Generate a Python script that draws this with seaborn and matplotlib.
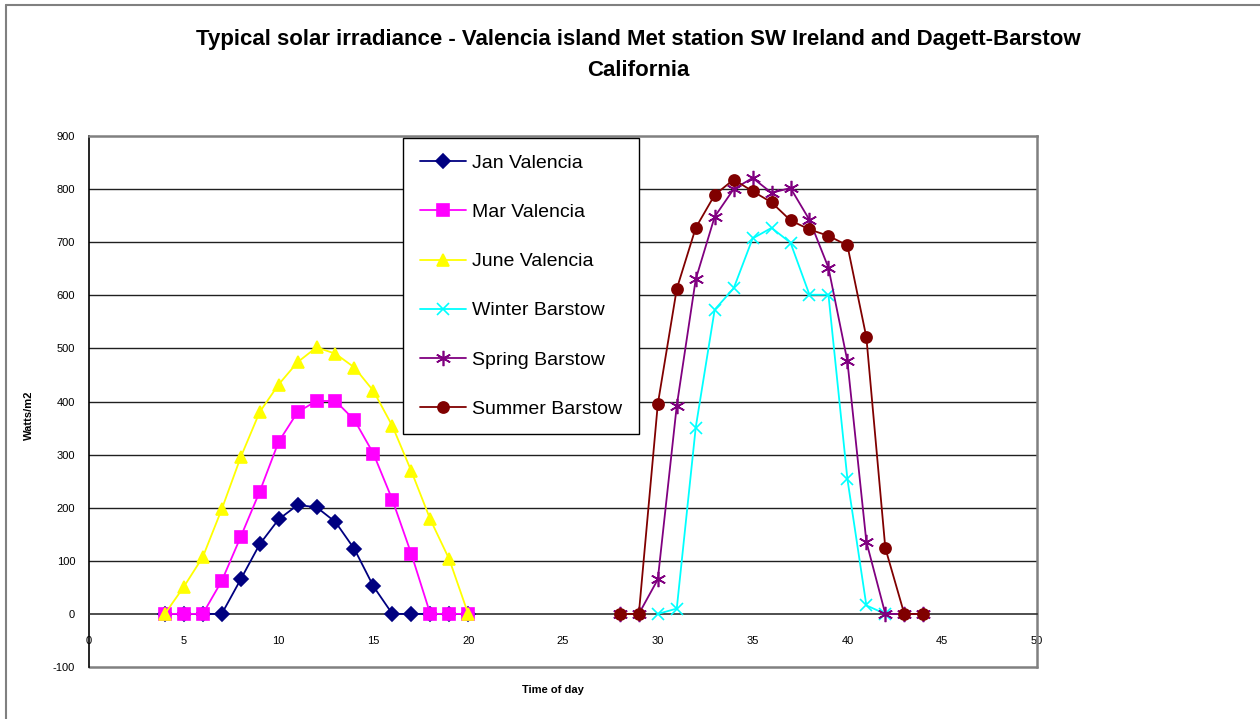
import numpy as np
import pandas as pd
import matplotlib
matplotlib.use("Agg")
import matplotlib.pyplot as plt
from matplotlib.lines import Line2D
import seaborn as sns

# Hours of day (Barstow plotted shifted by 24 h on the same axis)
hours_valencia = list(range(4, 21))
hours_winter = list(range(30, 43))
hours_barstow = list(range(28, 45))

jan_valencia = [0, 0, 0, 0, 65, 131, 178, 205, 201, 173, 122, 52, 0, 0, 0, 0, 0]
mar_valencia = [0, 0, 0, 62, 145, 230, 324, 380, 401, 401, 365, 302, 215, 113, 0, 0, 0]
june_valencia = [0, 51, 107, 197, 295, 380, 432, 474, 502, 490, 464, 420, 354, 269, 178, 103, 0]
winter_barstow = [0, 10, 351, 573, 613, 707, 727, 699, 601, 601, 254, 16, 0]
spring_barstow = [0, 0, 65, 392, 630, 748, 800, 821, 793, 802, 742, 652, 476, 136, 0, 0, 0]
summer_barstow = [0, 0, 395, 612, 727, 789, 818, 796, 775, 741, 724, 712, 694, 521, 124, 0, 0]

series = [
    ("Jan Valencia", hours_valencia, jan_valencia, "#000080", "D", 7),
    ("Mar Valencia", hours_valencia, mar_valencia, "#FF00FF", "s", 8),
    ("June Valencia", hours_valencia, june_valencia, "#FFFF00", "^", 9),
    ("Winter Barstow", hours_winter, winter_barstow, "#00FFFF", "x", 9),
    ("Spring Barstow", hours_barstow, spring_barstow, "#800080", (6, 2, 0), 11),
    ("Summer Barstow", hours_barstow, summer_barstow, "#800000", "o", 8),
]

sns.set_style("white")
plt.rcParams["font.family"] = ["Liberation Sans", "DejaVu Sans"]
plt.rcParams["axes.unicode_minus"] = False
plt.rcParams["text.color"] = "black"

fig = plt.figure(figsize=(12.6, 7.19), dpi=100)
W, H = 1260, 719
ax = fig.add_axes([89 / W, 1 - 667 / H, (1037 - 89) / W, (667 - 136) / H])

for name, xs, ys, col, mk, ms in series:
    df = pd.DataFrame({"hour": xs, "irr": ys})
    sns.lineplot(data=df, x="hour", y="irr", ax=ax, color=col, marker=mk,
                 markersize=ms, markeredgecolor=col, markeredgewidth=1.2,
                 linewidth=1.3, label=name, zorder=3)

ax.set_xlim(0, 50)
ax.set_ylim(-100, 900)
ax.set_xticks(np.arange(0, 51, 5))
ax.set_yticks(np.arange(-100, 901, 100))
ax.set_xlabel("")
ax.set_ylabel("")

for v in range(100, 900, 100):
    ax.axhline(v, color="#202020", lw=1.0, zorder=1)

ax.spines["bottom"].set_position(("data", 0))
ax.spines["bottom"].set_color("#303030")
ax.spines["bottom"].set_linewidth(1.2)
ax.spines["left"].set_color("black")
ax.spines["left"].set_linewidth(1.2)
for s in ("top", "right"):
    ax.spines[s].set_color("#808080")
    ax.spines[s].set_linewidth(1.8)
ax.axhline(-100, color="#808080", lw=1.8, zorder=2, clip_on=False)

ax.tick_params(axis="x", direction="out", length=4, width=1, pad=12,
               labelsize=8, colors="black")
ax.tick_params(axis="y", direction="out", length=4, width=1, pad=6,
               labelsize=8, colors="black")

leg = ax.legend(loc="upper left", bbox_to_anchor=(403 / W, 1 - 138 / H),
                bbox_transform=fig.transFigure, fontsize=14, frameon=True,
                fancybox=False, edgecolor="black", framealpha=1,
                handlelength=2.4, handletextpad=0.3, labelspacing=1.62,
                borderpad=0.85, borderaxespad=0)
leg.get_frame().set_linewidth(1.0)
for t in leg.get_texts():
    t.set_color("black")

fig.text(638 / W, 1 - 40 / H, "Typical solar irradiance - Valencia island Met station SW Ireland and Dagett-Barstow",
         ha="center", va="center", fontsize=16, fontweight="bold")
fig.text(638 / W, 1 - 70 / H, "California", ha="center", va="center",
         fontsize=16, fontweight="bold")
fig.text(553 / W, 1 - 690 / H, "Time of day", ha="center", va="center",
         fontsize=8, fontweight="bold")
fig.text(29 / W, 1 - 415 / H, "Watts/m2", ha="center", va="center",
         fontsize=8, fontweight="bold", rotation=90)

# outer chart frame
fig.add_artist(Line2D([6 / W, 1], [1 - 5 / H, 1 - 5 / H], color="#808080", lw=1.5))
fig.add_artist(Line2D([6 / W, 6 / W], [0, 1 - 5 / H], color="#808080", lw=1.5))

fig.savefig("out.png", dpi=100)
